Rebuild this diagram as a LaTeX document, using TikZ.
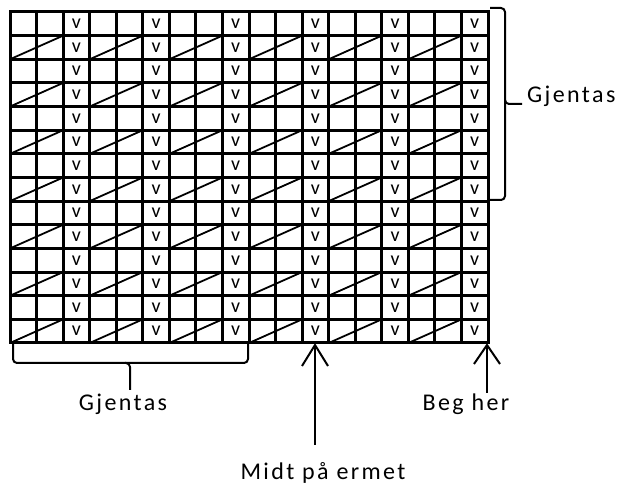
\documentclass[tikz,border=0pt]{standalone}
\usepackage{fontspec}
\setmainfont{Carlito}
\begin{document}
\begin{tikzpicture}[x=1pt,y=-1pt,
  gridline/.style={line width=3pt},
  diag/.style={line width=1.8pt},
  lbl/.style={font=\fontsize{24}{28}\selectfont\addfontfeature{LetterSpace=10}, inner sep=0pt},
  cellv/.style={font=\fontsize{20}{24}\selectfont, inner sep=0pt},
  brc/.style={line width=2pt, rounded corners=4pt},
  arr/.style={line width=2pt}]
\useasboundingbox (0,0) rectangle (627,486);
\pgfmathsetmacro{\cw}{478/18}
\pgfmathsetmacro{\rh}{331/14}
% grid
\foreach \i in {0,...,18} \draw[gridline] ({10+\i*\cw},12) -- ({10+\i*\cw},343);
\foreach \j in {0,...,14} \draw[gridline] (10,{12+\j*\rh}) -- (488,{12+\j*\rh});
\draw[gridline, line cap=rect] (10,12) rectangle (488,343);
% diagonals
\foreach \j in {1,3,...,13}
  \foreach \k in {0,...,5}
    \draw[diag] ({10+3*\k*\cw},{12+(\j+1)*\rh}) -- ({10+(3*\k+2)*\cw},{12+\j*\rh});
% v marks
\foreach \j in {0,...,13}
  \foreach \k in {0,...,5}
    \node[cellv] (v-\j-\k) at ({10+(3*\k+2.5)*\cw},{12+(\j+0.5)*\rh}) {v};
% right brace
\node[lbl, anchor=base west] (gjR) at (527,103) {Gjentas};
\coordinate (gjRtip) at (522,104);
\draw[brc] (490,8) -- (505,8) -- (505,104) -- (gjRtip);
\draw[brc] (505,100) -- (505,200) -- (490,200);
% bottom brace
\node[lbl, anchor=base] (gjB) at (123,410) {Gjentas};
\coordinate (gjBtip) at (130,390);
\draw[brc] (13,343) -- (13,363) -- (130,363) -- (gjBtip);
\draw[brc] (125,363) -- (248,363) -- (248,343);
% arrows
\node[lbl, anchor=base] (midt) at (323,479) {Midt på ermet};
\coordinate (midTip) at (315,345);
\coordinate (midEnd) at (315,445);
\draw[arr] (midEnd) -- (midTip);
\draw[arr] (302,366) -- (midTip) -- (328,366);
\node[lbl, anchor=base] (beg) at (466,410) {Beg her};
\coordinate (begTip) at (487,345);
\coordinate (begEnd) at (487,393);
\draw[arr] (begEnd) -- (begTip);
\draw[arr] (474,364) -- (begTip) -- (500,364);
\end{tikzpicture}
\end{document}
